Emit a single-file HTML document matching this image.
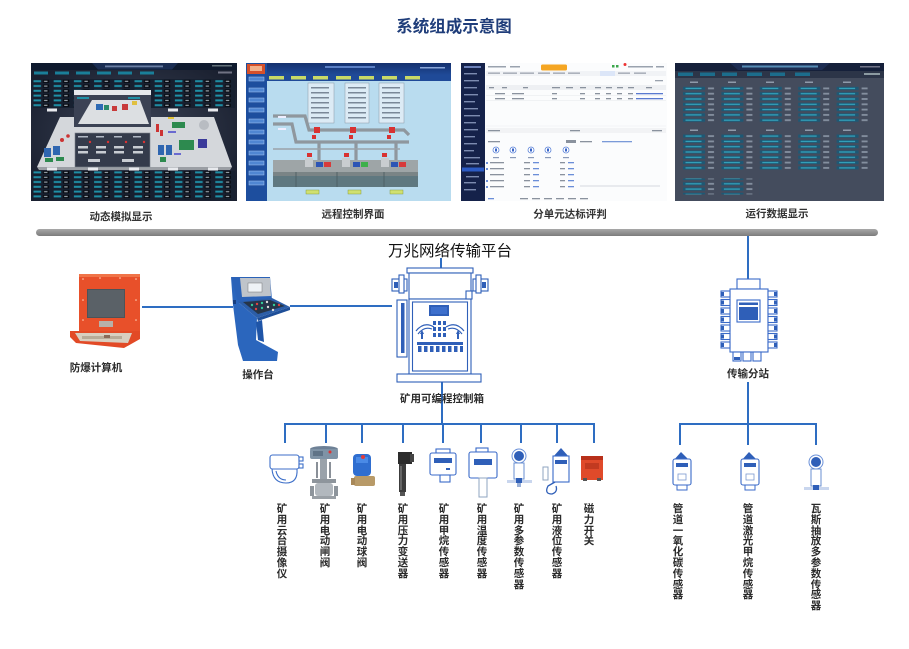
<!DOCTYPE html>
<html><head><meta charset="utf-8">
<style>
html,body{margin:0;padding:0;background:#fff;}
body{width:909px;height:649px;overflow:hidden;position:relative;font-family:"Liberation Sans","Noto Sans CJK SC",sans-serif;}
svg{position:absolute;left:0;top:0;}
.v{position:absolute;top:504px;width:12px;font-size:10.5px;line-height:10.8px;font-weight:bold;color:#2b2b2b;text-align:center;word-break:break-all;}
</style></head><body>
<svg width="909" height="649" viewBox="0 0 909 649" xmlns="http://www.w3.org/2000/svg" font-family="Liberation Sans, Noto Sans CJK SC, sans-serif">
<defs>
<pattern id="s1" x="33" y="79" width="20.2" height="4.8" patternUnits="userSpaceOnUse">
<rect x="0" y="0" width="20.2" height="4.8" fill="#172030"/>
<rect x="0.5" y="1.2" width="7.5" height="2" fill="#1f8fa6"/>
<rect x="10" y="0.8" width="6" height="3" fill="#05080d"/>
<rect x="11" y="1.7" width="3.5" height="1.2" fill="#9aa3ad"/>
</pattern>
<pattern id="s4" x="683" y="86" width="38.4" height="5.3" patternUnits="userSpaceOnUse">
<rect x="0" y="0.8" width="22" height="3.2" fill="#1e5874"/>
<rect x="2.5" y="1.8" width="16" height="1.2" fill="#3cc0d8" opacity="0.75"/>
<rect x="25" y="1.5" width="6" height="1.8" fill="#8590a0"/>
</pattern>
<linearGradient id="bar" x1="0" y1="0" x2="0" y2="1"><stop offset="0" stop-color="#a8a8a8"/><stop offset="1" stop-color="#7c7c7c"/></linearGradient>
<linearGradient id="hdr2" x1="0" y1="0" x2="0" y2="1"><stop offset="0" stop-color="#15316e"/><stop offset="1" stop-color="#1f4a98"/></linearGradient>
<radialGradient id="bg1" cx="0.5" cy="0.5" r="0.6"><stop offset="0" stop-color="#3c4456"/><stop offset="1" stop-color="#1a2030"/></radialGradient>
</defs>

<!-- Title -->
<text x="454" y="32" font-size="16.5" font-weight="bold" fill="#1f3d7a" text-anchor="middle">系统组成示意图</text>

<!-- Screenshot 1 -->
<rect x="31" y="63" width="206" height="138" fill="url(#bg1)"/>
<rect x="31" y="63" width="206" height="7" fill="#0e1a2e"/>
<path d="M92 63 L178 63 L172 69.5 L98 69.5 Z" fill="#1a2d52"/>
<rect x="105" y="65.5" width="58" height="1.8" fill="#8fa3c8" opacity="0.7"/>
<rect x="212" y="65" width="20" height="1.5" fill="#9aa" opacity="0.6"/>
<g fill="#1a7f99"><rect x="34" y="71.5" width="14" height="3"/><rect x="55" y="71.5" width="14" height="3"/><rect x="76" y="71.5" width="14" height="3"/><rect x="97" y="71.5" width="14" height="3"/><rect x="118" y="71.5" width="14" height="3"/><rect x="140" y="71.5" width="14" height="3"/></g>
<rect x="218" y="71.5" width="14" height="2" fill="#aab" opacity="0.6"/>
<rect x="33" y="79" width="202" height="29" fill="url(#s1)"/>
<rect x="33" y="171" width="202" height="29" fill="url(#s1)"/>
<polygon points="37,167 60,117 214,117 232,167" fill="#d4d7db"/>
<polygon points="37,167 232,167 230,170 39,170" fill="#9a9ea4"/>
<!-- popup -->
<rect x="74" y="90" width="77" height="5" fill="#e6e8ec"/>
<rect x="74" y="95" width="77" height="32" fill="#3b4254"/>
<polygon points="78,124 92,100 140,100 149,124" fill="#dcdfe2"/>
<rect x="96" y="104" width="7" height="6" fill="#2d6ab4"/><rect x="104" y="105" width="5" height="5" fill="#2a8a6a"/><rect x="112" y="106" width="5" height="5" fill="#c83a3a"/><rect x="122" y="104" width="6" height="6" fill="#c83a3a"/><rect x="132" y="101" width="5" height="4" fill="#e0c040"/>
<rect x="77" y="97" width="12" height="2" fill="#1f8fa6"/><rect x="128" y="97" width="12" height="2" fill="#1f8fa6"/>
<!-- dialog -->
<rect x="75" y="133" width="75" height="34" fill="#343b4b" stroke="#7c828c" stroke-width="0.6"/>
<g fill="#c8ccd2"><rect x="78" y="146" width="10" height="2.5"/><rect x="96" y="146" width="10" height="2.5"/><rect x="114" y="146" width="10" height="2.5"/><rect x="133" y="146" width="10" height="2.5"/><rect x="78" y="151" width="10" height="2.5"/><rect x="96" y="151" width="10" height="2.5"/><rect x="114" y="151" width="10" height="2.5"/><rect x="133" y="151" width="10" height="2.5"/><rect x="88" y="159" width="12" height="3"/><rect x="122" y="159" width="12" height="3"/></g>
<g fill="#b0b8c4"><rect x="78" y="136" width="10" height="1.5"/><rect x="96" y="136" width="8" height="1.5"/><rect x="114" y="136" width="8" height="1.5"/><rect x="133" y="136" width="8" height="1.5"/></g>
<g fill="#d33"><circle cx="90" cy="142" r="1.2"/><circle cx="108" cy="142" r="1.2"/><circle cx="126" cy="142" r="1.2"/><circle cx="144" cy="142" r="1.2"/></g>
<!-- equipment on platform -->
<g><rect x="44" y="148" width="7" height="9" fill="#2f66b0"/><rect x="53" y="146" width="7" height="9" fill="#2f66b0"/><rect x="45" y="158" width="8" height="4" fill="#2d8a4f"/><rect x="56" y="157" width="8" height="4" fill="#2d8a4f"/><circle cx="62" cy="140" r="2" fill="#c33"/><circle cx="68" cy="136" r="1.8" fill="#c33"/>
<rect x="158" y="145" width="6" height="10" fill="#2f66b0"/><rect x="166" y="145" width="6" height="10" fill="#2f66b0"/><rect x="172" y="122" width="13" height="6" fill="#2d8a4f"/><rect x="179" y="140" width="15" height="10" fill="#2d8a4f"/><rect x="198" y="139" width="9" height="9" fill="#3a3a9a"/><circle cx="204" cy="125" r="5" fill="#b8bcc2"/><rect x="156" y="124" width="3" height="8" fill="#c33"/><rect x="160" y="130" width="3" height="6" fill="#c33"/><rect x="168" y="117" width="6" height="2" fill="#e2c43a"/><rect x="160" y="157" width="6" height="5" fill="#2d8a4f"/>
<rect x="174" y="153" width="7" height="2" fill="#6a6ad0"/><rect x="168" y="131" width="8" height="2" fill="#6a6ad0"/></g>
<g fill="#e8eaee"><rect x="47" y="108.5" width="10" height="3"/><rect x="168" y="108.5" width="10" height="3"/><rect x="208" y="108.5" width="10" height="3"/><rect x="47" y="167.5" width="10" height="3"/><rect x="88" y="167.5" width="10" height="3"/><rect x="129" y="167.5" width="10" height="3"/><rect x="168" y="167.5" width="10" height="3"/><rect x="208" y="167.5" width="10" height="3"/></g>

<!-- Screenshot 2 -->
<rect x="246" y="63" width="205" height="138" fill="#b9dcef"/>
<rect x="246" y="63" width="205" height="12" fill="url(#hdr2)"/>
<rect x="246" y="75" width="205" height="6" fill="#1f4a98"/>
<rect x="325" y="66" width="50" height="2" fill="#5a7fc4"/>
<rect x="420" y="67" width="25" height="1.5" fill="#8aa6d8"/>
<rect x="246" y="63" width="21" height="138" fill="#1d4e9e"/>
<rect x="247" y="64" width="18" height="10" fill="#d5502a"/><rect x="250" y="66" width="12" height="5" fill="#f2b08a"/>
<g fill="#4f86d2" stroke="#a8c8f0" stroke-width="0.5"><rect x="249" y="77" width="15" height="4"/><rect x="249" y="88" width="15" height="4"/><rect x="249" y="98" width="15" height="4"/><rect x="249" y="108" width="15" height="4"/><rect x="249" y="119" width="15" height="4"/><rect x="249" y="130" width="15" height="4"/><rect x="249" y="140" width="15" height="4"/><rect x="249" y="151" width="15" height="4"/><rect x="249" y="161" width="15" height="4"/><rect x="249" y="171" width="15" height="4"/><rect x="249" y="181" width="15" height="4"/></g>
<g fill="#c9da66"><rect x="269" y="76" width="15" height="3.5"/><rect x="291" y="76" width="15" height="3.5"/><rect x="313" y="76" width="15" height="3.5"/><rect x="336" y="76" width="15" height="3.5"/><rect x="359" y="76" width="15" height="3.5"/><rect x="382" y="76" width="15" height="3.5"/><rect x="405" y="76" width="15" height="3.5"/></g>
<g fill="#dcebf5" stroke="#8a98a6" stroke-width="0.5"><rect x="308" y="83" width="26" height="40"/><rect x="345" y="83" width="24" height="40"/><rect x="379" y="83" width="25" height="40"/></g>
<g fill="#7a8898"><rect x="311" y="87" width="18" height="1.5"/><rect x="311" y="92" width="18" height="1.5"/><rect x="311" y="97" width="18" height="1.5"/><rect x="311" y="102" width="18" height="1.5"/><rect x="311" y="107" width="18" height="1.5"/><rect x="311" y="112" width="18" height="1.5"/><rect x="311" y="117" width="18" height="1.5"/>
<rect x="348" y="87" width="18" height="1.5"/><rect x="348" y="92" width="18" height="1.5"/><rect x="348" y="97" width="18" height="1.5"/><rect x="348" y="102" width="18" height="1.5"/><rect x="348" y="107" width="18" height="1.5"/><rect x="348" y="112" width="18" height="1.5"/><rect x="348" y="117" width="18" height="1.5"/>
<rect x="382" y="87" width="18" height="1.5"/><rect x="382" y="92" width="18" height="1.5"/><rect x="382" y="97" width="18" height="1.5"/><rect x="382" y="102" width="18" height="1.5"/><rect x="382" y="107" width="18" height="1.5"/><rect x="382" y="112" width="18" height="1.5"/><rect x="382" y="117" width="18" height="1.5"/></g>
<g fill="none" stroke="#8f979e" stroke-width="3.2"><path d="M273 116 L305 116 L309 130 L404 130 L409 135"/><path d="M273 124 L292 124 L296 142 L409 142"/><path d="M319 142 V160 M356 142 V160 M396 142 V160"/></g>
<path d="M273 149 L400 149" stroke="#9aa2a8" stroke-width="1.5"/>
<g fill="#d83232"><rect x="314" y="127" width="6" height="6"/><rect x="312" y="135" width="4" height="4"/><rect x="350" y="127" width="6" height="6"/><rect x="349" y="135" width="4" height="4"/><rect x="389" y="127" width="6" height="6"/><rect x="387" y="135" width="4" height="4"/><rect x="307" y="153" width="5" height="4"/><rect x="344" y="153" width="5" height="4"/><rect x="382" y="153" width="5" height="4"/></g>
<rect x="273" y="160" width="145" height="27" fill="#7a8486"/>
<rect x="273" y="160" width="145" height="12" fill="#9ea5a7"/>
<rect x="273" y="176" width="145" height="11" fill="#5f7880"/>
<g stroke="#4a5a60" stroke-width="0.8"><path d="M296 172 V187 M337 172 V187 M384 172 V187"/></g>
<g fill="#c9cdd0"><rect x="305" y="158" width="8" height="9"/><rect x="342" y="158" width="8" height="9"/><rect x="381" y="158" width="8" height="9"/></g>
<g><rect x="316" y="162" width="7" height="5" fill="#2d55b5"/><rect x="324" y="162" width="7" height="5" fill="#d83a3a"/><rect x="353" y="162" width="7" height="5" fill="#2d55b5"/><rect x="361" y="162" width="7" height="5" fill="#3cb04a"/><rect x="391" y="162" width="7" height="5" fill="#2d55b5"/><rect x="399" y="162" width="7" height="5" fill="#d83a3a"/></g>
<g fill="#d0e070" stroke="#7a9030" stroke-width="0.4"><rect x="306" y="190" width="13" height="4"/><rect x="348" y="190" width="13" height="4"/><rect x="390" y="190" width="13" height="4"/></g>
<rect x="278" y="116" width="8" height="2" fill="#eef"/><rect x="278" y="128" width="8" height="2" fill="#eef"/>

<!-- Screenshot 3 -->
<rect x="461" y="63" width="206" height="138" fill="#fbfcfd"/>
<rect x="461" y="63" width="24" height="138" fill="#15224a"/>
<rect x="464" y="66" width="17" height="2" fill="#6b80b8"/>
<g fill="#7c8bb0"><rect x="464" y="73" width="13" height="1.4"/><rect x="464" y="80" width="15" height="1.4"/><rect x="464" y="87" width="13" height="1.4"/><rect x="464" y="94" width="14" height="1.4"/><rect x="464" y="101" width="11" height="1.4"/><rect x="464" y="108" width="14" height="1.4"/><rect x="464" y="115" width="16" height="1.4"/><rect x="464" y="122" width="12" height="1.4"/><rect x="464" y="129" width="14" height="1.4"/><rect x="464" y="136" width="11" height="1.4"/><rect x="464" y="143" width="13" height="1.4"/><rect x="464" y="150" width="10" height="1.4"/><rect x="464" y="157" width="16" height="1.4"/><rect x="466" y="163" width="13" height="1.4"/><rect x="466" y="176" width="13" height="1.4"/><rect x="464" y="182" width="12" height="1.4"/><rect x="464" y="189" width="12" height="1.4"/></g>
<rect x="462" y="167.5" width="22" height="4" fill="#2c5bc4"/>
<g fill="#9aa2ae"><rect x="488" y="66" width="18" height="1.5"/><rect x="510" y="66" width="10" height="1.5"/><rect x="628" y="66" width="25" height="1.5"/><rect x="656" y="66" width="8" height="1.5"/></g>
<rect x="541" y="64.5" width="26" height="6" rx="1.5" fill="#f5a623"/>
<g fill="#3aa64a"><rect x="612" y="65" width="2.5" height="2.5"/><rect x="616" y="65" width="2.5" height="2.5"/></g><circle cx="625" cy="64.5" r="1.5" fill="#e33"/>
<rect x="486" y="71" width="180" height="5" fill="#f1f3f6"/>
<g fill="#9aa2ae"><rect x="488" y="72.5" width="12" height="1.3"/><rect x="503" y="72.5" width="14" height="1.3"/><rect x="520" y="72.5" width="14" height="1.3"/><rect x="538" y="72.5" width="12" height="1.3"/><rect x="553" y="72.5" width="12" height="1.3"/><rect x="568" y="72.5" width="12" height="1.3"/><rect x="618" y="72.5" width="12" height="1.3"/><rect x="634" y="72.5" width="12" height="1.3"/><rect x="655" y="80" width="8" height="1.3"/></g>
<rect x="600" y="71" width="15" height="5" fill="#dce6f8"/>
<rect x="486" y="85" width="180" height="5" fill="#eef0f3"/>
<g fill="#8a929e"><rect x="489" y="87" width="5" height="1.3"/><rect x="502" y="87" width="5" height="1.3"/><rect x="523" y="87" width="5" height="1.3"/><rect x="552" y="87" width="8" height="1.3"/><rect x="566" y="87" width="7" height="1.3"/><rect x="580" y="87" width="6" height="1.3"/><rect x="595" y="87" width="6" height="1.3"/><rect x="606" y="87" width="6" height="1.3"/><rect x="617" y="87" width="6" height="1.3"/><rect x="628" y="87" width="6" height="1.3"/><rect x="646" y="87" width="6" height="1.3"/>
<rect x="495" y="93" width="10" height="1.3"/><rect x="512" y="93" width="12" height="1.3"/><rect x="552" y="93" width="5" height="1.3"/><rect x="580" y="93" width="5" height="1.3"/><rect x="595" y="93" width="5" height="1.3"/><rect x="606" y="93" width="5" height="1.3"/><rect x="617" y="93" width="5" height="1.3"/><rect x="628" y="93" width="5" height="1.3"/>
<rect x="495" y="98" width="10" height="1.3"/><rect x="512" y="98" width="12" height="1.3"/><rect x="552" y="98" width="5" height="1.3"/><rect x="580" y="98" width="5" height="1.3"/><rect x="595" y="98" width="5" height="1.3"/><rect x="606" y="98" width="5" height="1.3"/><rect x="617" y="98" width="5" height="1.3"/><rect x="628" y="98" width="5" height="1.3"/></g>
<g fill="#5a7ad0"><rect x="636" y="93" width="27" height="1.3"/><rect x="636" y="98" width="27" height="1.3"/></g>
<path d="M486 95.5 H666 M486 100.5 H666" stroke="#e6e8ec" stroke-width="0.5"/>
<rect x="486" y="128" width="180" height="5" fill="#f2f3f5"/>
<g fill="#8a929e"><rect x="488" y="130" width="12" height="1.3"/><rect x="570" y="130" width="10" height="1.3"/><rect x="652" y="130" width="10" height="1.3"/><rect x="488" y="141" width="12" height="1.3"/><rect x="566" y="140" width="10" height="3"/><rect x="580" y="141" width="12" height="1.3"/></g>
<rect x="602" y="141" width="30" height="1.3" fill="#7a9ad8"/>
<g fill="#fff" stroke="#5a82d8" stroke-width="0.8"><circle cx="496" cy="150" r="3"/><circle cx="513" cy="150" r="3"/><circle cx="531" cy="150" r="3"/><circle cx="548" cy="150" r="3"/><circle cx="566" cy="150" r="3"/></g>
<g fill="#3a66c8"><rect x="495" y="148.5" width="2" height="3"/><rect x="512" y="148.5" width="2" height="3"/><rect x="530" y="148.5" width="2" height="3"/><rect x="547" y="148.5" width="2" height="3"/><rect x="565" y="148.5" width="2" height="3"/></g>
<g fill="#8a9ab8"><rect x="493" y="157" width="6" height="1.2"/><rect x="510" y="157" width="6" height="1.2"/><rect x="528" y="157" width="6" height="1.2"/><rect x="545" y="157" width="6" height="1.2"/><rect x="563" y="157" width="6" height="1.2"/></g>
<g fill="#8a929e"><rect x="490" y="162" width="14" height="1.3"/><rect x="490" y="168" width="14" height="1.3"/><rect x="490" y="174" width="14" height="1.3"/><rect x="490" y="180" width="14" height="1.3"/><rect x="490" y="186" width="14" height="1.3"/>
<rect x="524" y="162" width="6" height="1.3"/><rect x="524" y="168" width="6" height="1.3"/><rect x="524" y="174" width="6" height="1.3"/><rect x="524" y="180" width="6" height="1.3"/><rect x="524" y="186" width="6" height="1.3"/>
<rect x="560" y="162" width="5" height="1.3"/><rect x="560" y="168" width="5" height="1.3"/><rect x="560" y="174" width="5" height="1.3"/><rect x="560" y="180" width="5" height="1.3"/><rect x="560" y="186" width="5" height="1.3"/>
<rect x="520" y="198" width="8" height="1.3"/><rect x="532" y="198" width="8" height="1.3"/><rect x="544" y="198" width="8" height="1.3"/><rect x="556" y="198" width="8" height="1.3"/><rect x="568" y="198" width="8" height="1.3"/><rect x="580" y="198" width="8" height="1.3"/></g>
<g fill="#6a8ed8"><rect x="533" y="162" width="6" height="1.3"/><rect x="533" y="168" width="6" height="1.3"/><rect x="533" y="174" width="6" height="1.3"/><rect x="533" y="180" width="6" height="1.3"/><rect x="533" y="186" width="6" height="1.3"/><rect x="568" y="162" width="6" height="1.3"/><rect x="568" y="168" width="6" height="1.3"/><rect x="568" y="174" width="6" height="1.3"/><rect x="568" y="180" width="6" height="1.3"/><rect x="568" y="186" width="6" height="1.3"/><rect x="488" y="198" width="6" height="1.3"/><rect x="486" y="162" width="2" height="2"/><rect x="486" y="168" width="2" height="2"/><rect x="486" y="180" width="2" height="2"/><rect x="486" y="186" width="2" height="2"/></g>
<path d="M580 186 H660" stroke="#dde0e6" stroke-width="1.2"/>
<path d="M486 126 H666" stroke="#eceef2" stroke-width="0.6"/>

<!-- Screenshot 4 -->
<rect x="675" y="63" width="209" height="138" fill="#444c5d"/>
<rect x="675" y="63" width="209" height="8" fill="#15203a"/>
<path d="M730 63 L830 63 L822 70 L738 70 Z" fill="#1d2d52"/>
<rect x="742" y="65.5" width="76" height="2" fill="#6fb7e0" opacity="0.7"/>
<rect x="860" y="66" width="20" height="1.5" fill="#99a" opacity="0.7"/>
<rect x="675" y="71" width="209" height="7" fill="#2c3548"/>
<g fill="#1c6d8c"><rect x="678" y="72.5" width="15" height="3.5"/><rect x="700" y="72.5" width="15" height="3.5"/><rect x="722" y="72.5" width="15" height="3.5"/><rect x="747" y="72.5" width="15" height="3.5"/><rect x="770" y="72.5" width="15" height="3.5"/><rect x="795" y="72.5" width="15" height="3.5"/></g>
<rect x="864" y="73" width="16" height="2" fill="#cdd" opacity="0.6"/>
<g fill="#a8b4c4" opacity="0.75"><rect x="690" y="81.5" width="8" height="1.5"/><rect x="728" y="81.5" width="8" height="1.5"/><rect x="766" y="81.5" width="8" height="1.5"/><rect x="805" y="81.5" width="8" height="1.5"/><rect x="843" y="81.5" width="8" height="1.5"/>
<rect x="690" y="129.5" width="8" height="1.5"/><rect x="728" y="129.5" width="8" height="1.5"/><rect x="766" y="129.5" width="8" height="1.5"/><rect x="805" y="129.5" width="8" height="1.5"/><rect x="843" y="129.5" width="8" height="1.5"/></g>
<rect x="683" y="86" width="192" height="37.1" fill="url(#s4)"/>
<rect x="683" y="133.5" width="192" height="37.1" fill="url(#s4)"/>
<rect x="683" y="178.5" width="76.8" height="15.9" fill="url(#s4)"/>

<!-- network bar -->
<rect x="36" y="229" width="842" height="7" rx="3.5" fill="url(#bar)"/>

<!-- screen labels -->
<g font-size="10.5" font-weight="bold" fill="#333" text-anchor="middle">
<text x="121" y="220">动态模拟显示</text>
<text x="353" y="217.5">远程控制界面</text>
<text x="570" y="217.5">分单元达标评判</text>
<text x="777" y="217">运行数据显示</text>
</g>

<text x="450" y="256" font-size="15.5" fill="#111" text-anchor="middle">万兆网络传输平台</text>

<!-- connectors -->
<g stroke="#2e6dc2" stroke-width="2" fill="none">
<path d="M441 258 V269"/>
<path d="M748 236 V279"/>
<path d="M142 307 H233"/>
<path d="M290 306 H392"/>
<path d="M442 382 V424"/>
<path d="M285 443 V424 H594 V443"/>
<path d="M326 424 V443 M362 424 V443 M403 424 V443 M443 424 V443 M481 424 V443 M521 424 V443 M557 424 V443"/>
<path d="M748 382 V424"/>
<path d="M680 445 V424 H816 V445"/>
<path d="M748 424 V445"/>
</g>

<!-- explosion-proof computer -->
<rect x="79" y="274" width="61" height="58" fill="#e8502a"/>
<rect x="79" y="274" width="61" height="3" fill="#f07448"/>
<rect x="87" y="289" width="38" height="29" fill="#4d5358"/>
<rect x="88" y="290" width="36" height="27" fill="#5a6167"/>
<rect x="99" y="321" width="14" height="6" fill="#b8b0a8"/>
<g fill="#ffd0b8"><circle cx="83" cy="279" r="0.8"/><circle cx="136" cy="279" r="0.8"/><circle cx="83" cy="300" r="0.8"/><circle cx="136" cy="300" r="0.8"/><circle cx="83" cy="320" r="0.8"/><circle cx="136" cy="320" r="0.8"/><circle cx="100" cy="278" r="0.8"/><circle cx="120" cy="278" r="0.8"/></g>
<polygon points="70,331 140,331 140,339 124,348 76,343 70,337" fill="#e24a26"/>
<polygon points="75,333 132,333 128,343 80,341" fill="#d8cfc0"/>
<rect x="82" y="336" width="40" height="3" fill="#b7ab98"/>
<rect x="104" y="335" width="6" height="3" fill="#8a6a58"/>

<!-- operator console -->
<polygon points="231,277 270,277 272,300 238,303 235,300" fill="#2a62b8"/>
<polygon points="240,278 270,278 271,296 242,297" fill="#bfc4ca"/>
<rect x="248" y="283" width="14" height="9" fill="#eef2f6" stroke="#777" stroke-width="0.5"/>
<polygon points="238,302 272,298 290,307 257,318" fill="#2c5ea8"/>
<polygon points="243,302 270,300 285,306 258,314" fill="#263548"/>
<g><circle cx="252" cy="305" r="1.2" fill="#3c9" /><circle cx="257" cy="304" r="1.2" fill="#d44"/><circle cx="262" cy="303" r="1.2" fill="#3c9"/><circle cx="267" cy="302" r="1.2" fill="#ddd"/><circle cx="256" cy="309" r="1.2" fill="#d44"/><circle cx="262" cy="308" r="1.2" fill="#3c9"/><circle cx="268" cy="307" r="1.2" fill="#ddd"/><circle cx="274" cy="305" r="1.2" fill="#3c9"/><circle cx="279" cy="305" r="1.2" fill="#d44"/><circle cx="273" cy="310" r="1.2" fill="#ddd"/></g>
<polygon points="231,277 238,302 257,318 256,340 278,352 277,361 243,361 238,345 233,305" fill="#2b66bd"/>
<polygon points="257,318 290,307 290,310 258,321" fill="#1e4e98"/>
<polygon points="256,322 262,320 264,342 258,340" fill="#1f55a8"/>
<rect x="233" y="300" width="3" height="4" fill="#173e80"/>

<!-- control box -->
<g fill="#fff" stroke="#2f5fb8" stroke-width="1.1">
<rect x="407" y="268" width="66" height="5"/>
<rect x="409" y="273" width="62" height="26"/>
<rect x="392" y="279" width="15" height="12"/>
<rect x="473" y="279" width="15" height="12"/>
<rect x="409" y="299" width="62" height="75"/>
<rect x="412.5" y="302" width="55" height="69"/>
<rect x="397" y="300" width="10" height="57"/>
<rect x="397" y="374" width="84" height="8"/>
<rect x="399" y="275" width="5" height="18"/>
<rect x="476" y="275" width="5" height="18"/>
<rect x="466" y="291" width="6" height="8"/>
</g>
<rect x="401" y="303" width="3.5" height="50" fill="#2f5fb8"/>
<rect x="394" y="282" width="4" height="6" fill="#2f5fb8"/><rect x="482" y="282" width="4" height="6" fill="#2f5fb8"/>
<rect x="429" y="305" width="20" height="11" fill="#2f5fb8"/>
<rect x="431" y="307" width="16" height="7" fill="#3d6fcc"/>
<g fill="none" stroke="#2f5fb8" stroke-width="1.2"><path d="M416 331 Q424 321 434 327"/><path d="M446 327 Q456 321 464 331"/><path d="M418 334 Q424 326 432 329"/><path d="M448 329 Q456 326 462 334"/></g>
<g fill="#2f5fb8"><path d="M422 330 l-2 4 h4 z"/><rect x="421" y="334" width="2" height="5"/><path d="M458 330 l-2 4 h4 z"/><rect x="457" y="334" width="2" height="5"/>
<rect x="433" y="321" width="3" height="4"/><rect x="438" y="321" width="3" height="4"/><rect x="443" y="321" width="3" height="4"/><rect x="433" y="327" width="3" height="4"/><rect x="438" y="327" width="3" height="4"/><rect x="443" y="327" width="3" height="4"/><rect x="433" y="333" width="3" height="4"/><rect x="438" y="333" width="3" height="4"/><rect x="443" y="333" width="3" height="4"/>
<rect x="417" y="342" width="46" height="3"/>
<rect x="418" y="346" width="3.5" height="6"/><rect x="424" y="346" width="3.5" height="6"/><rect x="430" y="346" width="3.5" height="6"/><rect x="436" y="346" width="3.5" height="6"/><rect x="442" y="346" width="3.5" height="6"/><rect x="448" y="346" width="3.5" height="6"/><rect x="454" y="346" width="3.5" height="6"/><rect x="460" y="346" width="3" height="6"/></g>

<!-- substation -->
<g fill="#fff" stroke="#3a6ac8" stroke-width="1.1">
<rect x="737" y="279" width="23" height="10"/>
<rect x="730" y="289" width="38" height="63"/>
<rect x="737" y="300" width="23" height="22"/>
<rect x="721" y="291" width="9" height="6"/><rect x="721" y="299.5" width="9" height="6"/><rect x="721" y="308" width="9" height="6"/><rect x="721" y="316.5" width="9" height="6"/><rect x="721" y="325" width="9" height="6"/><rect x="721" y="333.5" width="9" height="6"/><rect x="721" y="342" width="9" height="6"/>
<rect x="768" y="291" width="9" height="6"/><rect x="768" y="299.5" width="9" height="6"/><rect x="768" y="308" width="9" height="6"/><rect x="768" y="316.5" width="9" height="6"/><rect x="768" y="325" width="9" height="6"/><rect x="768" y="333.5" width="9" height="6"/><rect x="768" y="342" width="9" height="6"/>
<rect x="733" y="352" width="8" height="9"/><rect x="743" y="352" width="8" height="9"/><rect x="753" y="352" width="8" height="9"/>
</g>
<g fill="#2f5fb8"><rect x="739" y="302.5" width="19" height="2.5"/><rect x="739" y="307" width="19" height="13"/>
<rect x="721" y="292" width="3" height="4"/><rect x="721" y="300.5" width="3" height="4"/><rect x="721" y="309" width="3" height="4"/><rect x="721" y="317.5" width="3" height="4"/><rect x="721" y="326" width="3" height="4"/><rect x="721" y="334.5" width="3" height="4"/><rect x="721" y="343" width="3" height="4"/>
<rect x="774" y="292" width="3" height="4"/><rect x="774" y="300.5" width="3" height="4"/><rect x="774" y="309" width="3" height="4"/><rect x="774" y="317.5" width="3" height="4"/><rect x="774" y="326" width="3" height="4"/><rect x="774" y="334.5" width="3" height="4"/><rect x="774" y="343" width="3" height="4"/>
<rect x="734" y="357" width="6" height="3"/></g>

<!-- middle labels -->
<g font-size="10.5" font-weight="bold" fill="#2b2b2b" text-anchor="middle">
<text x="96" y="371">防爆计算机</text>
<text x="258" y="378">操作台</text>
<text x="442" y="402">矿用可编程控制箱</text>
<text x="748" y="377">传输分站</text>
</g>

<!-- device: PTZ camera -->
<g fill="#fff" stroke="#3c6ec8" stroke-width="1.1">
<rect x="270" y="455" width="29" height="14" rx="2.5"/>
<rect x="299" y="457" width="4" height="4"/><rect x="299" y="464" width="4" height="4"/>
<path d="M272 469 Q273 483 286 483 Q298 483 297 469 Z"/>
<path d="M276 471 Q278 480 286 480" fill="none"/>
</g>
<!-- gate valve -->
<g>
<ellipse cx="324" cy="449" rx="14" ry="3" fill="#6e8196"/>
<rect x="310" y="449" width="28" height="10" rx="2" fill="#7f93a6"/>
<rect x="313" y="451" width="10" height="5" fill="#5f7387"/>
<circle cx="330" cy="452" r="1.5" fill="#d33"/>
<rect x="320" y="459" width="7" height="20" fill="#9aa2aa"/>
<rect x="316" y="462" width="2" height="16" fill="#8a9098"/><rect x="329" y="462" width="2" height="16" fill="#8a9098"/>
<rect x="312" y="479" width="24" height="4" fill="#8e959c"/>
<rect x="315" y="483" width="18" height="13" rx="3" fill="#b2b8be"/>
<rect x="310" y="486" width="4" height="10" fill="#8e959c"/><rect x="334" y="486" width="4" height="10" fill="#8e959c"/>
<rect x="312" y="496" width="24" height="3" fill="#9aa0a6"/>
</g>
<!-- ball valve -->
<g>
<rect x="353" y="454" width="18" height="22" rx="4" fill="#2f6ed0"/>
<rect x="356" y="457" width="12" height="6" fill="#4a8ae6"/>
<circle cx="363" cy="457" r="2" fill="#e03a3a"/>
<rect x="354" y="476" width="21" height="10" rx="2" fill="#b89a68"/>
<rect x="351" y="478" width="4" height="7" fill="#a88858"/>
</g>
<!-- pressure transmitter -->
<g>
<rect x="398" y="452" width="14" height="12" fill="#2c2c2c"/>
<rect x="410" y="454" width="4" height="8" fill="#444"/>
<rect x="399" y="464" width="7" height="28" fill="#3c3c3c"/>
<rect x="400" y="466" width="2" height="24" fill="#666"/>
<rect x="400" y="492" width="5" height="4" fill="#555"/>
</g>
<!-- methane sensor -->
<g fill="#fff" stroke="#3a6ac8" stroke-width="1.1">
<rect x="436" y="449" width="14" height="4"/>
<rect x="430" y="453" width="26" height="22" rx="2"/>
<rect x="440" y="475" width="10" height="7"/>
</g>
<rect x="434" y="458" width="18" height="5" fill="#2f5fb8"/>
<rect x="446" y="468" width="4" height="2" fill="#2f5fb8"/>
<!-- temperature sensor -->
<g fill="#fff" stroke="#3a6ac8" stroke-width="1.1">
<rect x="476" y="448" width="12" height="4"/>
<rect x="469" y="452" width="28" height="26" rx="2"/>
</g>
<rect x="474" y="459" width="18" height="6" fill="#2f5fb8"/>
<rect x="479" y="478" width="8" height="19" fill="#fff" stroke="#8fa4c0" stroke-width="1"/>
<!-- multi-param sensor -->
<g>
<circle cx="519" cy="456" r="7" fill="#fff" stroke="#6a90d8" stroke-width="1"/>
<circle cx="519" cy="456" r="5" fill="#2f5fb8"/>
<rect x="514" y="463" width="10" height="16" fill="#fff" stroke="#6a8fd0" stroke-width="1"/>
<rect x="507" y="480" width="25" height="3" fill="#c9d6ee"/>
<rect x="516" y="478" width="6" height="5" fill="#2f5fb8"/>
<rect x="517" y="483" width="4" height="4" fill="#9ab0d8"/>
</g>
<!-- level sensor -->
<g>
<path d="M553 457 L561 448 L569 457 Z" fill="#2f5fb8"/>
<rect x="553" y="456" width="16" height="26" fill="#fff" stroke="#3a6ac8" stroke-width="1.1"/>
<rect x="555" y="460" width="12" height="4" fill="#2f5fb8"/>
<rect x="543" y="467" width="5" height="13" fill="#fff" stroke="#8fa4c0" stroke-width="1"/>
<path d="M555 482 L548 486 Q544 494 552 494 Q558 492 556 486" fill="none" stroke="#2f5fb8" stroke-width="1.3"/>
</g>
<!-- magnetic switch -->
<g>
<rect x="581" y="456" width="22" height="24" fill="#e04a2a"/>
<rect x="581" y="456" width="22" height="4" fill="#b8301a"/>
<rect x="585" y="463" width="14" height="6" fill="#c23a20"/>
<rect x="583" y="478" width="4" height="3" fill="#555"/><rect x="597" y="478" width="4" height="3" fill="#555"/>
</g>
<!-- right sensors -->
<g>
<path d="M673 461 L681 452 L690 461 Z" fill="#2f5fb8"/>
<rect x="673" y="459" width="18" height="26" rx="2" fill="#fff" stroke="#3a6ac8" stroke-width="1.1"/>
<rect x="676" y="463" width="12" height="4" fill="#2f5fb8"/>
<rect x="678" y="474" width="8" height="6" fill="none" stroke="#7a98d0" stroke-width="0.8"/>
<rect x="677" y="485" width="10" height="5" fill="#fff" stroke="#3a6ac8" stroke-width="1"/>
<path d="M741 461 L749 452 L758 461 Z" fill="#2f5fb8"/>
<rect x="741" y="459" width="18" height="26" rx="2" fill="#fff" stroke="#3a6ac8" stroke-width="1.1"/>
<rect x="744" y="463" width="12" height="4" fill="#2f5fb8"/>
<rect x="746" y="474" width="8" height="6" fill="none" stroke="#7a98d0" stroke-width="0.8"/>
<rect x="745" y="485" width="10" height="5" fill="#fff" stroke="#3a6ac8" stroke-width="1"/>
<circle cx="816" cy="462" r="7" fill="#fff" stroke="#6a90d8" stroke-width="1"/>
<circle cx="816" cy="462" r="5" fill="#2f5fb8"/>
<rect x="811" y="469" width="10" height="17" fill="#fff" stroke="#6a8fd0" stroke-width="1"/>
<rect x="804" y="487" width="25" height="3" fill="#c9d6ee"/>
<rect x="813" y="485" width="6" height="5" fill="#2f5fb8"/>
</g>
</svg>

<div class="v" style="left:276px">矿用云台摄像仪</div>
<div class="v" style="left:319px">矿用电动闸阀</div>
<div class="v" style="left:356px">矿用电动球阀</div>
<div class="v" style="left:397px">矿用压力变送器</div>
<div class="v" style="left:438px">矿用甲烷传感器</div>
<div class="v" style="left:476px">矿用温度传感器</div>
<div class="v" style="left:513px">矿用多参数传感器</div>
<div class="v" style="left:551px">矿用液位传感器</div>
<div class="v" style="left:583px">磁力开关</div>
<div class="v" style="left:672px">管道一氧化碳传感器</div>
<div class="v" style="left:742px">管道激光甲烷传感器</div>
<div class="v" style="left:810px">瓦斯抽放多参数传感器</div>
</body></html>
